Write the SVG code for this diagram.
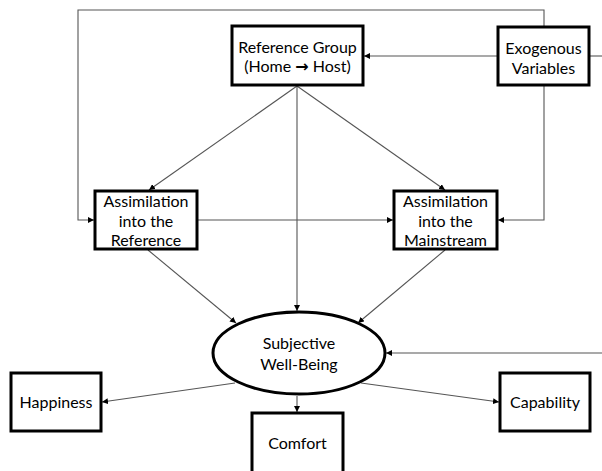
<svg xmlns="http://www.w3.org/2000/svg" width="602" height="471" viewBox="0 0 602 471">
<style>
.box{fill:#fff;stroke:#000;stroke-width:3}
.t{font-family:Lato,"Liberation Sans",sans-serif;font-size:16px;fill:#000;text-anchor:middle}
.c{fill:none;stroke:#555;stroke-width:1.1}
.arr{font-family:"DejaVu Sans",sans-serif;font-weight:bold}
</style>
<defs>
<marker id="a" viewBox="0 0 10 10" refX="10" refY="5" markerWidth="6" markerHeight="6" orient="auto" markerUnits="userSpaceOnUse">
<path d="M0,0 L10,5 L0,10 z" fill="#000"/>
</marker>
</defs>
<rect width="602" height="471" fill="#fff"/>
<g id="connectors">
<polyline class="c" points="544,27 544,10 78,10 78,220 94,220" marker-end="url(#a)"/>
<polyline class="c" points="544,85 544,220 498,220" marker-end="url(#a)"/>
<line class="c" x1="498" y1="56" x2="364" y2="56" marker-end="url(#a)"/>
<line class="c" x1="589" y1="56" x2="602" y2="56"/>
<line class="c" x1="297" y1="86" x2="149" y2="190" marker-end="url(#a)"/>
<line class="c" x1="297" y1="86" x2="445" y2="190" marker-end="url(#a)"/>
<line class="c" x1="297" y1="86" x2="297" y2="311" marker-end="url(#a)"/>
<line class="c" x1="198" y1="220" x2="393" y2="220" marker-end="url(#a)"/>
<line class="c" x1="148" y1="250" x2="236" y2="323" marker-end="url(#a)"/>
<line class="c" x1="445" y1="250" x2="358" y2="323" marker-end="url(#a)"/>
<line class="c" x1="602" y1="353" x2="386" y2="353" marker-end="url(#a)"/>
<line class="c" x1="235" y1="383" x2="102" y2="402" marker-end="url(#a)"/>
<line class="c" x1="361" y1="383" x2="499" y2="402" marker-end="url(#a)"/>
<line class="c" x1="297" y1="396" x2="297" y2="412" marker-end="url(#a)"/>
</g>
<g id="refgroup">
<rect class="box" x="232" y="26" width="131" height="59"/>
<text class="t" x="297.5" y="52.5">Reference Group</text>
<text class="t" x="297.5" y="71.5">(Home <tspan class="arr">→</tspan> Host)</text>
</g>
<g id="exogenous">
<rect class="box" x="498" y="27" width="91" height="58"/>
<text class="t" x="543.5" y="53.5">Exogenous</text>
<text class="t" x="543.5" y="73.5">Variables</text>
</g>
<g id="assim-ref">
<rect class="box" x="95" y="191" width="102" height="58"/>
<text class="t" x="146" y="206.5">Assimilation</text>
<text class="t" x="146" y="226.5">into the</text>
<text class="t" x="146" y="245.5">Reference</text>
</g>
<g id="assim-main">
<rect class="box" x="394" y="191" width="103" height="58"/>
<text class="t" x="445.5" y="206.5">Assimilation</text>
<text class="t" x="445.5" y="226.5">into the</text>
<text class="t" x="445.5" y="245.5">Mainstream</text>
</g>
<g id="swb">
<ellipse class="box" cx="299" cy="353" rx="86" ry="41"/>
<text class="t" x="299" y="348.5">Subjective</text>
<text class="t" x="299" y="369.5">Well-Being</text>
</g>
<g id="happiness">
<rect class="box" x="11" y="373" width="90" height="58"/>
<text class="t" x="56" y="407.5">Happiness</text>
</g>
<g id="comfort">
<rect class="box" x="252" y="413" width="91" height="62"/>
<text class="t" x="297.5" y="448.5">Comfort</text>
</g>
<g id="capability">
<rect class="box" x="500" y="373" width="90" height="58"/>
<text class="t" x="545" y="407.5">Capability</text>
</g>
</svg>
